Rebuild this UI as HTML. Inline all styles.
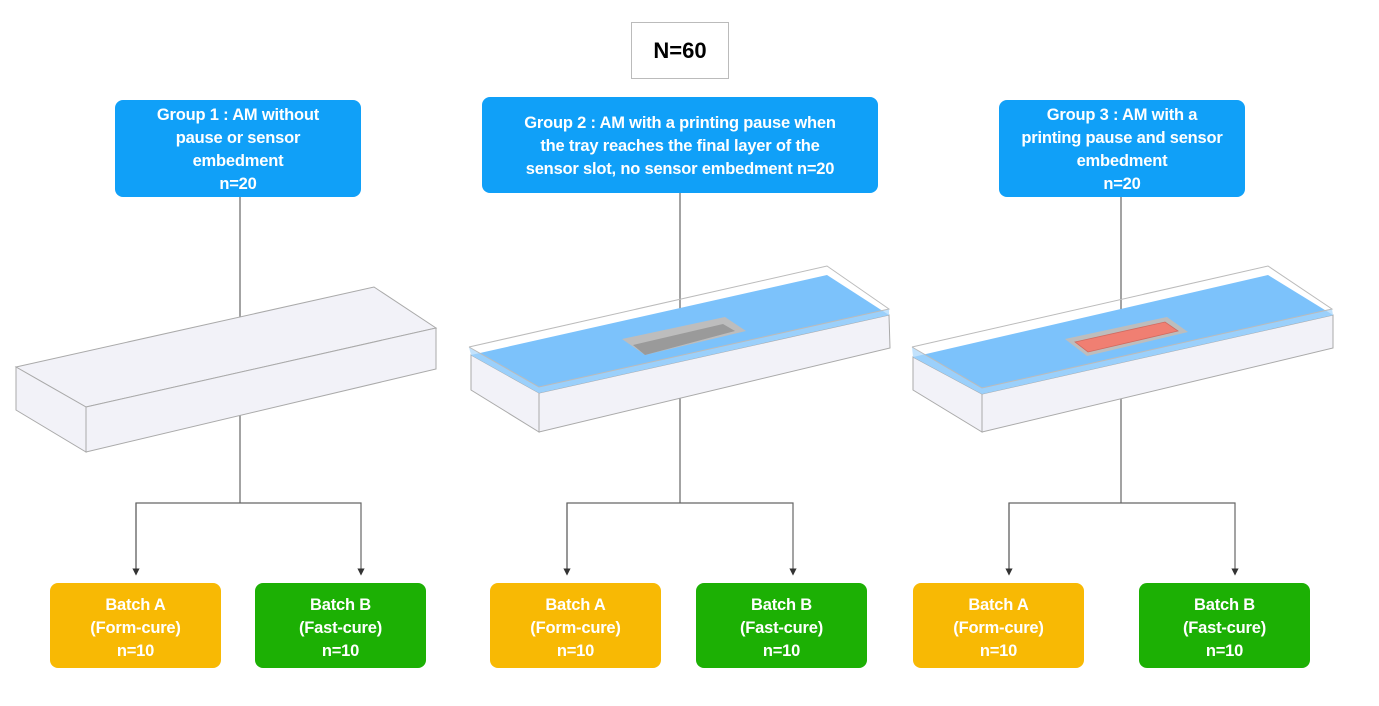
<!DOCTYPE html>
<html><head><meta charset="utf-8"><style>
body{margin:0;width:1379px;height:706px;background:#fff;position:relative;overflow:hidden;font-family:"Liberation Sans",Arial,sans-serif}
.b{position:absolute;color:#fff;font-weight:bold;font-size:16.5px;line-height:23px;text-align:center;border-radius:8px;display:flex;align-items:center;justify-content:center;letter-spacing:-0.2px;box-sizing:border-box}
.g{background:#10a0f8;padding-top:3px}.o{background:#f8b904;padding-top:6px}.gr{background:#1cb004;padding-top:6px}
svg{position:absolute;left:0;top:0}
</style></head><body>
<svg width="1379" height="706">
<defs><marker id="a" markerWidth="6" markerHeight="6" refX="3" refY="3" orient="auto"><path d="M0,0L6,3L0,6z" fill="#333"/></marker></defs>
<g stroke="#666" stroke-width="1.2" fill="none">
<line x1="240" y1="197" x2="240" y2="503"/><line x1="680" y1="193" x2="680" y2="503"/><line x1="1121" y1="197" x2="1121" y2="503"/>
<path d="M136,572V503H361V572" marker-end="url(#a)"/><line x1="136" y1="503" x2="136" y2="572" marker-end="url(#a)"/>
<path d="M567,572V503H793V572" marker-end="url(#a)"/><line x1="567" y1="503" x2="567" y2="572" marker-end="url(#a)"/>
<path d="M1009,572V503H1235V572" marker-end="url(#a)"/><line x1="1009" y1="503" x2="1009" y2="572" marker-end="url(#a)"/>
</g>
<!-- box1 -->
<g stroke="#aaa" stroke-width="1" fill="#f2f2f8">
<polygon points="16,367 374,287 436,328 86,407"/>
<polygon points="86,407 436,328 436,369 86,452"/>
<polygon points="16,367 86,407 86,452 16,410"/>
</g>
<!-- box2 -->
<g stroke="#aaa" stroke-width="1" fill="#f2f2f8">
<polygon points="539,393 889,315 890,348 539,432"/>
<polygon points="471,355 539,393 539,432 471,390"/>
</g>
<polygon points="471,355 827,275 889,315 539,393" fill="#7cc2fb"/>
<polygon points="471,355 539,393 539,387 469,347" fill="#a8d5fb" opacity=".7"/>
<polygon points="539,393 889,315 889,309 539,387" fill="#a8d5fb" opacity=".7"/>
<polyline points="469,347 827,266 889,309 539,387 469,347" fill="none" stroke="#bbb" stroke-width="1"/>
<polygon points="622,339 725,317 746,331 645,355" fill="#bdbdbd"/>
<polygon points="633,345 723,324 735,331 645,355" fill="#9a9a9a"/>
<!-- box3 -->
<g stroke="#aaa" stroke-width="1" fill="#f2f2f8">
<polygon points="982,394 1333,315 1333,348 982,432"/>
<polygon points="913,357 982,394 982,432 913,390"/>
</g>
<polygon points="913,357 1268,275 1333,315 982,394" fill="#7cc2fb"/>
<polygon points="913,357 982,394 982,388 912,347" fill="#a8d5fb" opacity=".7"/>
<polygon points="982,394 1333,315 1332,309 982,388" fill="#a8d5fb" opacity=".7"/>
<polyline points="912,347 1268,266 1332,309 982,388 912,347" fill="none" stroke="#bbb" stroke-width="1"/>
<polygon points="1065,339 1167,317 1188,332 1087,356" fill="#bdbdbd"/>
<polygon points="1075,342 1165,322 1178,331 1088,352" fill="#f07f72" stroke="#d06a60" stroke-width=".8"/>
</svg>
<div style="position:absolute;left:631px;top:22px;width:96px;height:55px;border:1px solid #bbb;display:flex;align-items:center;justify-content:center;font-weight:bold;font-size:22px">N=60</div>
<div class="b g" style="left:115px;top:100px;width:246px;height:97px">Group 1 : AM without<br>pause or sensor<br>embedment<br>n=20</div>
<div class="b g" style="left:482px;top:97px;width:396px;height:96px">Group 2 : AM with a printing pause when<br>the tray reaches the final layer of the<br>sensor slot, no sensor embedment n=20</div>
<div class="b g" style="left:999px;top:100px;width:246px;height:97px">Group 3 : AM with a<br>printing pause and sensor<br>embedment<br>n=20</div>
<div class="b o" style="left:50px;top:583px;width:171px;height:85px">Batch A<br>(Form-cure)<br>n=10</div>
<div class="b gr" style="left:255px;top:583px;width:171px;height:85px">Batch B<br>(Fast-cure)<br>n=10</div>
<div class="b o" style="left:490px;top:583px;width:171px;height:85px">Batch A<br>(Form-cure)<br>n=10</div>
<div class="b gr" style="left:696px;top:583px;width:171px;height:85px">Batch B<br>(Fast-cure)<br>n=10</div>
<div class="b o" style="left:913px;top:583px;width:171px;height:85px">Batch A<br>(Form-cure)<br>n=10</div>
<div class="b gr" style="left:1139px;top:583px;width:171px;height:85px">Batch B<br>(Fast-cure)<br>n=10</div>
</body></html>
